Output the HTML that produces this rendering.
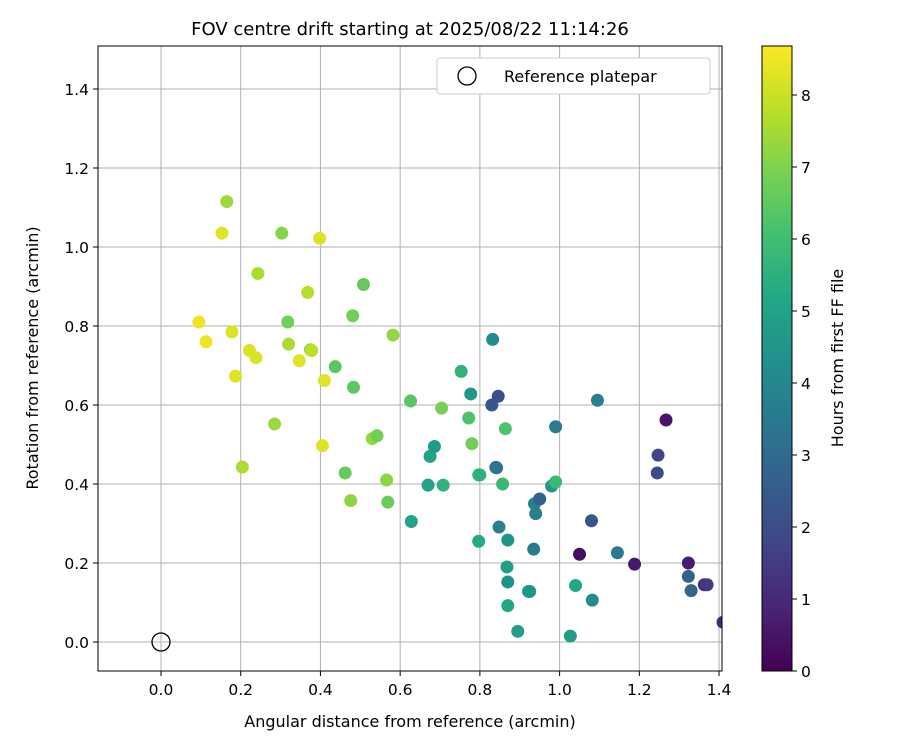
<!DOCTYPE html>
<html><head><meta charset="utf-8"><style>
body{margin:0;background:#fff;font-family:"Liberation Sans","DejaVu Sans",sans-serif}
svg text{font-family:"DejaVu Sans","Liberation Sans",sans-serif}
</style></head><body>
<svg id="c" width="900" height="750" xmlns="http://www.w3.org/2000/svg">
<defs><linearGradient id="vir" x1="0" y1="1" x2="0" y2="0">
<stop offset="0" stop-color="#440154"/><stop offset="0.1" stop-color="#482475"/><stop offset="0.2" stop-color="#414487"/><stop offset="0.3" stop-color="#355f8d"/><stop offset="0.4" stop-color="#2a788e"/><stop offset="0.5" stop-color="#21918c"/><stop offset="0.6" stop-color="#22a884"/><stop offset="0.7" stop-color="#44bf70"/><stop offset="0.8" stop-color="#7ad151"/><stop offset="0.9" stop-color="#bddf26"/><stop offset="1" stop-color="#fde725"/>
</linearGradient><clipPath id="pc"><rect x="98" y="46" width="624" height="625"/></clipPath></defs>
<text x="410" y="35" font-size="18" text-anchor="middle">FOV centre drift starting at 2025/08/22 11:14:26</text>
<g id="grid"></g><g id="pts" clip-path="url(#pc)"></g>
<rect x="98" y="46" width="624" height="625" fill="none" stroke="#000" stroke-width="1"/>
<text x="410" y="727" font-size="16" text-anchor="middle">Angular distance from reference (arcmin)</text>
<text transform="translate(38,358) rotate(-90)" font-size="16" text-anchor="middle">Rotation from reference (arcmin)</text>
<g>
<rect x="437" y="58" width="273" height="36" rx="3" fill="#fff" stroke="#ccc"/>
<circle cx="467" cy="76" r="9" fill="none" stroke="#000" stroke-width="1.3"/>
<text x="504" y="82" font-size="16">Reference platepar</text></g>
<rect x="762" y="46" width="30" height="625" fill="url(#vir)" stroke="#000"/>
<g id="cb"></g>
<text transform="translate(843,358) rotate(-90)" font-size="16" text-anchor="middle">Hours from first FF file</text>
</svg>
<script>
const xs=[0.153,0.165,0.095,0.113,0.178,0.187,0.222,0.238,0.243,0.303,0.398,0.318,0.32,0.347,0.368,0.375,0.378,0.41,0.405,0.285,0.204,0.437,0.481,0.508,0.483,0.582,0.462,0.476,0.53,0.542,0.566,0.569,0.626,0.704,0.628,0.675,0.686,0.67,0.708,0.753,0.772,0.777,0.78,0.797,0.8,0.797,0.832,0.83,0.846,0.84,0.842,0.857,0.864,0.848,0.87,0.868,0.87,0.87,0.895,0.922,0.925,0.935,0.937,0.94,0.95,0.98,0.99,0.99,1.027,1.04,1.05,1.08,1.082,1.095,1.145,1.188,1.247,1.245,1.267,1.323,1.323,1.33,1.363,1.37,1.41];
const ys=[1.035,1.115,0.81,0.76,0.785,0.673,0.738,0.72,0.933,1.035,1.022,0.81,0.754,0.712,0.885,0.74,0.738,0.662,0.497,0.552,0.443,0.697,0.826,0.905,0.645,0.777,0.428,0.358,0.515,0.522,0.41,0.354,0.61,0.592,0.305,0.47,0.495,0.397,0.397,0.685,0.567,0.628,0.502,0.423,0.423,0.255,0.766,0.6,0.622,0.442,0.441,0.4,0.54,0.291,0.258,0.19,0.152,0.092,0.027,0.128,0.128,0.235,0.35,0.325,0.362,0.395,0.405,0.545,0.015,0.143,0.222,0.307,0.106,0.612,0.226,0.197,0.473,0.428,0.562,0.2,0.166,0.13,0.145,0.145,0.05];
const hours=[8.3,7.4,8.5,8.5,8.2,8.3,8.2,8.2,7.6,7.1,8.2,6.8,7.6,8.3,7.7,7.2,7.8,8.3,8.3,7.4,7.6,6.4,6.8,6.6,6.5,7.3,6.6,7.2,7.3,6.8,7.2,6.7,6.4,6.9,5.0,5.0,4.7,5.0,5.6,5.6,6.2,4.6,6.8,5.9,5.5,5.3,4.2,2.3,2.1,3.0,3.4,5.8,6.2,3.8,4.5,4.8,4.4,5.2,4.9,4.9,4.5,3.6,3.8,3.7,2.6,4.6,5.8,3.6,4.8,5.2,0.3,2.3,4.2,3.7,3.5,0.6,1.8,2.0,0.5,0.7,2.6,2.8,1.2,1.5,1.0];
const xTicks=[0,0.2,0.4,0.6,0.8,1.0,1.2,1.4], yTicks=[0,0.2,0.4,0.6,0.8,1.0,1.2,1.4], cTicks=[0,1,2,3,4,5,6,7,8];
const X=v=>161+v*398.6, Y=v=>642-v*395, C=h=>671-h*72, HMAX=8.68;
const vir=["#440154","#482475","#414487","#355f8d","#2a788e","#21918c","#22a884","#44bf70","#7ad151","#bddf26","#fde725"];
function col(h){let t=Math.max(0,Math.min(1,h/HMAX))*10,i=Math.min(9,Math.floor(t)),f=t-i;
const a=vir[i],b=vir[i+1],p=(s,k)=>parseInt(s.substr(k,2),16);
let r=[1,3,5].map(k=>Math.round(p(a,k)+(p(b,k)-p(a,k))*f));return `rgb(${r})`;}
const NS="http://www.w3.org/2000/svg";
function mk(p,tag,at){const e=document.createElementNS(NS,tag);for(const k in at)e.setAttribute(k,at[k]);p.appendChild(e);return e;}
const g=document.getElementById('grid');
xTicks.forEach(v=>{const x=X(v);
let l=mk(g,'line',{x1:x,x2:x,y1:46,y2:671,stroke:'#b0b0b0','stroke-width':1});

mk(g,'line',{x1:x,x2:x,y1:671,y2:676,stroke:'#000'});
let t=mk(g,'text',{x:x,y:695,'font-size':15.5,'text-anchor':'middle'});t.textContent=v.toFixed(1);
});
yTicks.forEach(v=>{const y=Y(v);
let l=mk(g,'line',{x1:98,x2:722,y1:y,y2:y,stroke:'#b0b0b0','stroke-width':1});

mk(g,'line',{x1:93,x2:98,y1:y,y2:y,stroke:'#000'});
let t=mk(g,'text',{x:89,y:y+6,'font-size':15.5,'text-anchor':'end'});t.textContent=v.toFixed(1);
});
const pg=document.getElementById('pts');
xs.forEach((v,i)=>{let c=mk(pg,'circle',{cx:X(v),cy:Y(ys[i]),r:6.5,fill:col(hours[i])});
});
let ref=mk(pg,'circle',{cx:X(0),cy:Y(0),r:9,fill:'none',stroke:'#000','stroke-width':1.3});

const cb=document.getElementById('cb');
cTicks.forEach(h=>{const y=C(h);mk(cb,'line',{x1:792,x2:797,y1:y,y2:y,stroke:'#000'});
let t=mk(cb,'text',{x:801,y:y+6,'font-size':15.5});t.textContent=h;
});
</script>
</body></html>
